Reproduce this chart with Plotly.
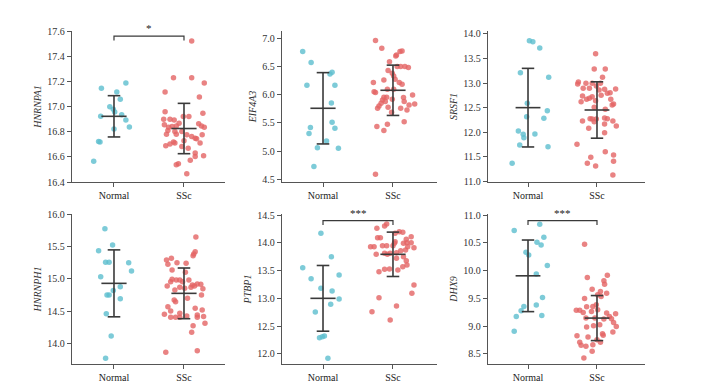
import plotly.graph_objects as go

categories = ["Normal", "SSc"]
genes = ["HNRNPA1", "EIF4A3", "SRSF1", "HNRNPH1", "PTBP1", "DHX9"]

# ---- HNRNPA1 ----
a1_normal = [17.146, 17.186, 17.115, 17.057, 16.999, 16.978, 16.957, 16.922, 16.935, 16.893, 16.838, 16.822, 16.722, 16.717, 16.564]
a1_normal_jit = [-0.18, 0.17, 0.04, 0.09, -0.06, -0.01, 0.01, -0.19, 0.11, 0.17, 0.22, 0.0, -0.22, -0.20, -0.29]
a1_ssc = [17.521, 17.228, 17.228, 17.186, 17.115, 17.075, 16.959, 16.946, 16.920, 16.898, 16.898, 16.893, 16.920, 16.867,
          16.854, 16.846, 16.841, 16.835, 16.862, 16.846, 16.835, 16.809, 16.801, 16.801, 16.780, 16.780, 16.775, 16.775,
          16.761, 16.748, 16.743, 16.727, 16.717, 16.688, 16.701, 16.709, 16.709, 16.682, 16.669, 16.630, 16.609, 16.603,
          16.572, 16.545, 16.537, 16.466]
a1_ssc_jit = [0.11, -0.15, 0.11, 0.29, -0.27, 0.22, -0.27, 0.27, -0.01, -0.29, -0.20, -0.14, 0.07, -0.07,
              -0.28, -0.11, -0.17, -0.22, 0.21, 0.25, 0.29, -0.23, -0.13, -0.03, -0.25, -0.11, 0.26, 0.04,
              0.11, 0.16, 0.18, 0.00, -0.15, -0.26, -0.20, -0.13, 0.23, -0.03, 0.06, 0.16, 0.28, 0.16,
              0.09, -0.08, -0.11, 0.04]

# ---- EIF4A3 ----
e_normal = [6.764, 6.569, 6.397, 6.368, 6.167, 6.167, 5.853, 5.511, 5.416, 5.404, 5.310, 5.180, 5.061, 5.050, 4.725]
e_normal_jit = [-0.29, -0.17, 0.13, 0.10, -0.23, 0.17, 0.12, 0.13, -0.18, 0.17, -0.20, 0.05, -0.08, 0.22, -0.13]
e_ssc = [6.959, 6.823, 6.764, 6.775, 6.704, 6.687, 6.586, 6.427, 6.498, 6.498, 6.498, 6.480, 6.379, 6.332, 6.273,
         6.214, 6.261, 6.214, 6.184, 6.054, 6.037, 6.096, 6.096, 5.995, 5.954, 5.954, 5.948, 5.907, 5.877, 5.848,
         5.918, 5.877, 5.818, 5.836, 5.800, 5.759, 5.777, 5.759, 5.729, 5.688, 5.522, 5.434, 5.475, 5.363, 4.589]
e_ssc_jit = [-0.25, -0.16, 0.10, 0.13, 0.05, 0.04, -0.05, -0.07, 0.06, 0.11, 0.17, 0.22, -0.01, 0.01, 0.03,
             -0.28, -0.13, 0.09, 0.13, -0.27, -0.25, -0.08, 0.01, 0.28, -0.13, -0.09, 0.15, -0.15, -0.11, -0.17,
             -0.01, 0.16, 0.23, 0.31, -0.20, -0.22, -0.07, 0.11, 0.20, -0.02, 0.16, -0.23, -0.08, -0.13, -0.25]

# ---- SRSF1 ----
s_normal = [13.864, 13.844, 13.714, 13.211, 13.116, 12.585, 12.313, 12.435, 12.279, 12.020, 11.952, 11.959, 11.884, 11.735, 11.701, 11.361]
s_normal_jit = [0.02, 0.07, 0.17, -0.11, 0.30, -0.01, -0.02, 0.28, 0.23, -0.14, -0.07, 0.10, -0.06, -0.12, 0.29, -0.23]
s_ssc = [13.599, 13.286, 13.286, 13.116, 13.020, 12.980, 12.993, 12.993, 12.993, 12.939, 12.891, 12.891, 12.857,
         12.871, 12.878, 12.803, 12.789, 12.735, 12.721, 12.748, 12.667, 12.639, 12.619, 12.687, 12.667, 12.571,
         12.551, 12.503, 12.463, 12.272, 12.265, 12.265, 12.286, 12.272, 12.224, 12.224, 12.211, 12.163, 12.122,
         12.075, 11.986, 11.748, 11.483, 11.599, 11.531, 11.361, 11.306, 11.401, 11.122]
s_ssc_jit = [-0.02, -0.04, 0.12, 0.08, -0.27, -0.28, -0.16, -0.07, 0.05, -0.01, -0.20, -0.11, 0.03,
             0.11, 0.27, 0.19, 0.15, -0.21, -0.07, 0.06, -0.15, -0.02, -0.23, -0.11, 0.20, 0.24,
             0.22, -0.04, 0.12, -0.10, -0.07, -0.01, 0.11, 0.15, 0.23, -0.21, -0.04, 0.11, 0.28,
             -0.12, 0.11, -0.29, -0.09, 0.12, 0.24, -0.14, -0.02, 0.24, 0.23]

# ---- HNRNPH1 ----
h_normal = [15.774, 15.523, 15.436, 15.256, 15.256, 15.251, 15.123, 15.036, 14.882, 14.821, 14.754, 14.754, 14.697, 14.467, 14.123, 13.779]
h_normal_jit = [-0.13, -0.02, -0.22, -0.12, -0.07, 0.21, 0.25, -0.19, 0.09, -0.01, -0.07, -0.10, 0.09, -0.11, -0.04, -0.12]
h_ssc = [15.646, 15.421, 15.385, 15.359, 15.292, 15.318, 15.251, 15.226, 15.241, 15.138, 15.103, 14.995, 14.985,
         14.985, 14.959, 14.985, 14.959, 14.923, 14.918, 14.908, 14.851, 14.892, 14.856, 14.872, 14.831, 14.872,
         14.892, 14.677, 14.651, 14.574, 14.703, 14.754, 14.508, 14.456, 14.472, 14.549, 14.523, 14.410, 14.410,
         14.410, 14.431, 14.446, 14.410, 14.421, 14.282, 14.318, 14.179, 13.872, 13.897]
h_ssc_jit = [0.17, 0.16, 0.14, 0.13, -0.25, -0.18, -0.10, -0.23, 0.03, -0.17, 0.02, -0.17, -0.11,
             -0.06, -0.19, 0.07, -0.02, 0.19, 0.24, 0.12, 0.27, -0.24, 0.01, 0.10, -0.13, -0.06,
             0.15, -0.14, -0.12, -0.23, 0.05, 0.25, -0.19, -0.28, -0.06, 0.16, 0.26, -0.19, -0.12,
             -0.06, 0.04, 0.19, 0.19, 0.28, 0.13, 0.30, 0.11, -0.26, 0.19]

# ---- PTBP1 ----
p_normal = [14.170, 13.751, 13.553, 13.355, 13.421, 13.181, 13.133, 12.989, 12.893, 12.755, 12.324, 12.312, 12.294, 11.922]
p_normal_jit = [-0.03, 0.12, -0.29, -0.17, 0.23, -0.03, 0.13, 0.23, 0.11, -0.11, 0.02, -0.01, -0.05, 0.07]
p_ssc = [14.338, 14.302, 14.260, 14.200, 14.188, 14.170, 14.092, 14.092, 14.110, 13.930, 13.930, 13.948, 13.948,
         13.948, 14.020, 13.990, 14.062, 14.002, 14.002, 13.990, 13.811, 13.793, 13.793, 13.811, 13.823, 13.859,
         13.871, 13.912, 13.930, 13.751, 13.679, 13.721, 13.601, 13.571, 13.511, 13.529, 13.523, 13.481, 13.241,
         13.091, 13.013, 12.863, 12.761, 12.612]
p_ssc_jit = [-0.09, -0.12, -0.23, 0.09, 0.14, 0.03, -0.22, -0.18, 0.26, -0.32, -0.27, -0.15, -0.09,
             0.00, 0.03, 0.02, 0.19, 0.20, 0.26, 0.15, -0.12, -0.24, -0.08, -0.04, 0.05, 0.11,
             0.18, 0.30, 0.21, 0.15, 0.19, 0.05, 0.20, 0.14, 0.07, -0.05, -0.12, -0.20, 0.30,
             0.27, -0.20, 0.05, -0.30, -0.04]

# ---- DHX9 ----
d_normal = [10.833, 10.719, 10.599, 10.510, 10.462, 10.330, 10.282, 10.091, 9.941, 9.517, 9.379, 9.355, 9.278, 9.194, 9.176, 8.907]
d_normal_jit = [0.17, -0.20, 0.23, 0.13, 0.19, -0.03, 0.01, 0.28, 0.12, 0.21, 0.12, -0.06, -0.10, 0.20, -0.17, -0.20]
d_ssc = [10.474, 9.917, 9.876, 9.816, 9.756, 9.666, 9.624, 9.594, 9.565, 9.535, 9.499, 9.355, 9.385, 9.289, 9.289,
         9.248, 9.349, 9.295, 9.266, 9.236, 9.224, 9.176, 9.134, 9.068, 9.146, 9.146, 9.128, 9.026, 8.996, 8.984,
         9.008, 8.895, 8.829, 8.865, 8.835, 8.805, 8.757, 8.709, 8.656, 8.638, 8.709, 8.667, 8.548, 8.428]
d_ssc_jit = [-0.18, 0.15, -0.14, 0.10, 0.11, -0.07, 0.05, 0.14, 0.01, 0.06, -0.18, -0.06, -0.01, -0.30, -0.25,
             -0.20, -0.15, 0.01, -0.08, 0.14, 0.27, 0.18, 0.21, 0.24, -0.16, -0.03, 0.10, 0.04, 0.28, -0.15,
             -0.05, 0.23, -0.29, 0.08, 0.09, -0.13, 0.00, -0.25, -0.23, -0.16, 0.05, -0.06, -0.07, -0.19]

# mean and SD: [normal, ssc]
means = {"HNRNPA1": [16.922, 16.825], "EIF4A3": [5.759, 6.078], "SRSF1": [12.497, 12.449],
         "HNRNPH1": [14.933, 14.779], "PTBP1": [13.001, 13.793], "DHX9": [9.906, 9.146]}
sds = {"HNRNPA1": [0.164, 0.200], "EIF4A3": [0.632, 0.446], "SRSF1": [0.802, 0.575],
       "HNRNPH1": [0.515, 0.390], "PTBP1": [0.591, 0.399], "DHX9": [0.644, 0.405]}

# significance brackets: gene -> (label, bracket level)
signif = {"HNRNPA1": ("*", 17.56), "PTBP1": ("***", 14.40), "DHX9": ("***", 10.90)}

data = {
    "HNRNPA1": (a1_normal, a1_normal_jit, a1_ssc, a1_ssc_jit),
    "EIF4A3": (e_normal, e_normal_jit, e_ssc, e_ssc_jit),
    "SRSF1": (s_normal, s_normal_jit, s_ssc, s_ssc_jit),
    "HNRNPH1": (h_normal, h_normal_jit, h_ssc, h_ssc_jit),
    "PTBP1": (p_normal, p_normal_jit, p_ssc, p_ssc_jit),
    "DHX9": (d_normal, d_normal_jit, d_ssc, d_ssc_jit),
}

# layout geometry: target page pixels; the page body adds an 8px offset
W, H = 702, 388
OFF = 8
col_px = [(72, 225), (282, 437), (488, 645)]
row_px = [(31, 182), (214, 364)]
x_ranges = [[-0.6, 1.586], [-0.586, 1.629], [-0.58, 1.696]]
y_ranges = {"HNRNPA1": [16.4, 17.6], "EIF4A3": [4.452, 7.129], "SRSF1": [10.98, 14.061],
            "HNRNPH1": [13.692, 16.0], "PTBP1": [11.82, 14.518], "DHX9": [8.32, 11.018]}
y_ticks = {"HNRNPA1": [16.4, 16.6, 16.8, 17.0, 17.2, 17.4, 17.6],
           "EIF4A3": [4.5, 5.0, 5.5, 6.0, 6.5, 7.0],
           "SRSF1": [11.0, 11.5, 12.0, 12.5, 13.0, 13.5, 14.0],
           "HNRNPH1": [14.0, 14.5, 15.0, 15.5, 16.0],
           "PTBP1": [12.0, 12.5, 13.0, 13.5, 14.0, 14.5],
           "DHX9": [8.5, 9.0, 9.5, 10.0, 10.5, 11.0]}

TEAL = "rgba(92,190,206,0.8)"
RED = "rgba(228,100,100,0.8)"
BAR = "#3a3a3a"
AX = "#555555"
FONT = "Liberation Serif"

fig = go.Figure()
shapes = []
annotations = []

for i, g in enumerate(genes):
    r, c = divmod(i, 3)
    n = i + 1
    xa = "x" if n == 1 else f"x{n}"
    ya = "y" if n == 1 else f"y{n}"
    nv, nj, sv, sj = data[g]
    fig.add_trace(go.Scatter(x=[0 + j for j in nj], y=nv, mode="markers", xaxis=xa, yaxis=ya,
                             marker=dict(size=5.5, color=TEAL, line=dict(width=0)), showlegend=False, hoverinfo="y"))
    fig.add_trace(go.Scatter(x=[1 + j for j in sj], y=sv, mode="markers", xaxis=xa, yaxis=ya,
                             marker=dict(size=5.5, color=RED, line=dict(width=0)), showlegend=False, hoverinfo="y"))
    for k in range(2):
        m, s = means[g][k], sds[g][k]
        for (x0, x1, y0, y1) in [(k, k, m - s, m + s), (k - 0.18, k + 0.18, m, m),
                                 (k - 0.09, k + 0.09, m + s, m + s), (k - 0.09, k + 0.09, m - s, m - s)]:
            shapes.append(dict(type="line", xref=xa, yref=ya, x0=x0, x1=x1, y0=y0, y1=y1,
                               line=dict(color=BAR, width=1.6), layer="above"))
    if g in signif:
        lab, lev = signif[g]
        yr = y_ranges[g]
        drop = (yr[1] - yr[0]) * 0.03
        shapes.append(dict(type="path", xref=xa, yref=ya,
                           path=f"M 0,{lev - drop} L 0,{lev} L 1,{lev} L 1,{lev - drop}",
                           line=dict(color=BAR, width=1.2)))
        annotations.append(dict(x=0.5, y=lev, xref=xa, yref=ya, text=lab, showarrow=False,
                                yanchor="bottom", yshift=0, font=dict(family=FONT, size=11, color="#222")))
    x0p, x1p = [v - OFF for v in col_px[c]]
    y0p, y1p = [v - OFF for v in row_px[r]]
    xkey = "xaxis" if n == 1 else f"xaxis{n}"
    ykey = "yaxis" if n == 1 else f"yaxis{n}"
    fig.layout[xkey] = dict(domain=[x0p / W, x1p / W], range=x_ranges[c], anchor=ya,
                            tickvals=[0, 1], ticktext=categories, ticks="outside", ticklen=4,
                            tickcolor=AX, showline=True, linecolor=AX, linewidth=1.3,
                            showgrid=False, zeroline=False, fixedrange=True, automargin=False,
                            tickfont=dict(family=FONT, size=10, color="#222"))
    fig.layout[ykey] = dict(domain=[(H - y1p) / H, (H - y0p) / H], range=y_ranges[g], anchor=xa,
                            tickvals=y_ticks[g], tickformat=".1f", ticks="outside", ticklen=4,
                            tickcolor=AX, showline=True, linecolor=AX, linewidth=1.3,
                            showgrid=False, zeroline=False, fixedrange=True, automargin=False,
                            tickfont=dict(family=FONT, size=10, color="#333"),
                            title=dict(text=g, standoff=3,
                                       font=dict(family=FONT, size=10, color="#333", style="italic")))

fig.update_layout(width=W, height=H, margin=dict(l=0, r=0, t=0, b=0),
                  paper_bgcolor="white", plot_bgcolor="white",
                  shapes=shapes, annotations=annotations, showlegend=False)
fig.write_html("out.html")
